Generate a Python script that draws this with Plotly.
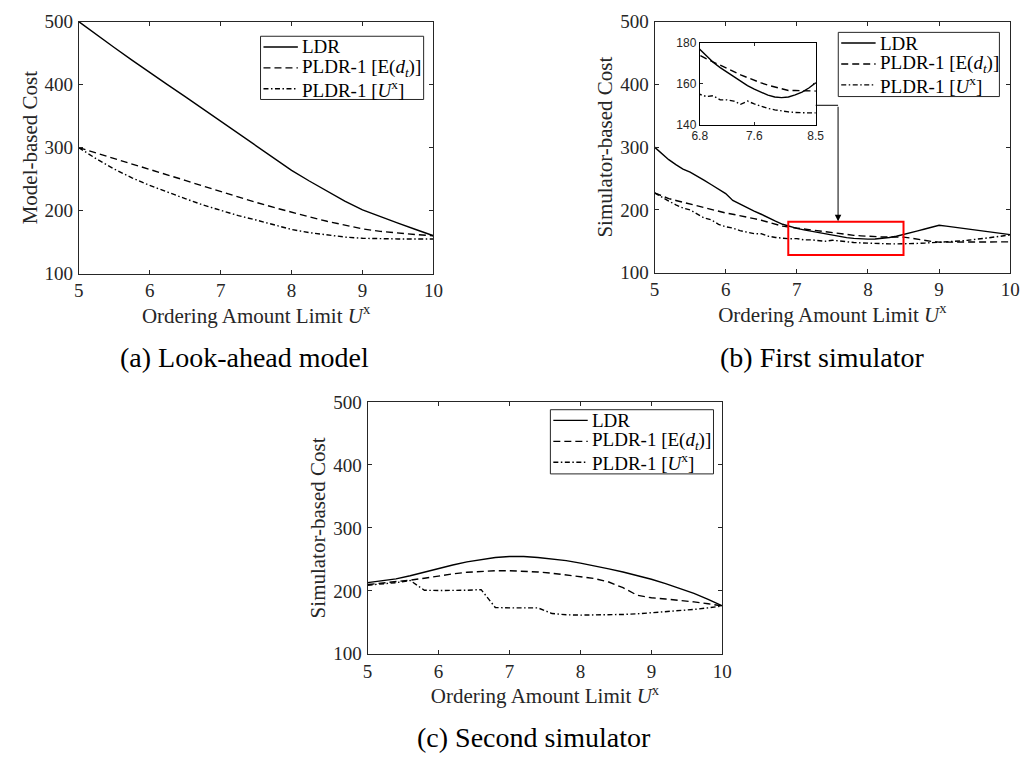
import plotly.graph_objects as go

SERIF = "Liberation Serif"
SANS = "Liberation Sans"
INK = "#262626"

# ---------------- data ----------------
# (a) look-ahead model
u_a = [5.0, 5.25, 5.5, 5.75, 6.0, 6.25, 6.5, 6.75, 7.0, 7.25, 7.5, 7.75,
       8.0, 8.25, 8.5, 8.75, 9.0, 9.25, 9.5, 9.75, 10.0]
ldr_a = [500, 479, 459, 439, 419, 400, 381, 361.5, 342, 322.5, 303, 283.5,
         264, 247, 231, 215, 201, 190, 180, 170, 160]
pldr_e_a = [300, 291.5, 283, 274.5, 266, 257, 248, 239, 230, 221.5, 213, 205,
            197, 190, 183, 177, 171, 167, 164, 162, 160]
pldr_u_a = [300, 282, 266, 252, 240, 229, 219, 209, 200, 192, 185, 177,
            170, 165, 161, 158, 156, 155, 155, 155, 155]

# (b) first simulator
u_b = [5.0, 5.1, 5.2, 5.3, 5.4, 5.5, 5.6, 5.7, 5.8, 5.9,
       6.0, 6.1, 6.2, 6.3, 6.4, 6.5, 6.6, 6.7, 6.8, 6.9,
       7.0, 7.1, 7.2, 7.3, 7.4, 7.5, 7.6, 7.7, 7.8, 7.9,
       8.0, 8.1, 8.2, 8.3, 8.4, 8.5, 8.6, 8.7, 8.8, 8.9,
       9.0, 9.1, 9.2, 9.3, 9.4, 9.5, 9.6, 9.7, 9.8, 9.9, 10.0]
ldr_b = [300, 290, 280, 272, 265, 260, 254, 247, 240, 233,
         226, 215, 209, 203, 198, 193, 187, 182, 177, 173.5,
         170.5, 168, 165.8, 163.5, 161.3, 159.2, 157.4, 155.8, 154.5, 153.6,
         153.3, 153.6, 154.6, 156, 158, 160.5, 163.5, 166.5, 169.5, 172.5,
         175.5, 174, 172.5, 171, 169.5, 168, 166.5, 165, 163.5, 162, 160.5]
pldr_e_b = [227, 222, 218, 215, 212, 210, 207, 204, 201, 198,
            195, 193, 191, 188.5, 186, 183.5, 180.5, 177, 174, 172.3,
            170.8, 169.2, 167.6, 166, 164.4, 163, 161.6, 160.5, 159.4, 158.6,
            157.8, 156.8, 156.8, 156.8, 156.8, 156.5, 155, 153, 151, 149.5,
            148.5, 148.5, 148.5, 148.5, 148.5, 148.5, 148.5, 148.7, 148.8, 149, 149]
pldr_u_b = [227, 220, 214, 208, 203, 200, 193, 187, 184, 177,
            173, 171, 167, 164, 162, 162, 158, 156, 155, 153.8,
            154.2, 152.2, 152.2, 151.6, 150, 151.6, 150.2, 149, 148, 147.3,
            146.7, 146.3, 146, 145.8, 145.8, 145.8, 146, 146.5, 147, 147.5,
            148, 148.5, 149.5, 150.5, 151.5, 152.5, 154, 155.5, 157, 158.5, 160]

# (c) second simulator
u_c = [5.0, 5.2, 5.4, 5.6, 5.8, 6.0, 6.2, 6.4, 6.6, 6.8, 7.0, 7.2, 7.4,
       7.6, 7.8, 8.0, 8.2, 8.4, 8.6, 8.8, 9.0, 9.2, 9.4, 9.6, 9.8, 10.0]
ldr_c = [213, 216, 219, 224, 230, 236, 241, 246, 250, 253, 254.5, 254.5, 253,
         251, 248, 244, 240, 235, 230, 224.5, 218.5, 211.5, 204, 196, 186.5, 176]
pldr_e_c = [210, 212, 214, 217, 220, 224, 227, 229.5, 231, 232, 232, 231.5, 230,
            228, 225.5, 223, 219.5, 214, 205, 193, 189, 187, 185, 182.5, 179.5, 176]
pldr_u_c = [209, 211, 213, 216.5, 201, 200.5, 200.5, 201, 202, 173.5, 173, 173, 173,
            164, 162, 161.5, 161.5, 162, 162.5, 163.5, 165, 166.5, 168.5, 170.5, 173, 176]

x_ticks = [5, 6, 7, 8, 9, 10]
y_ticks = [100, 200, 300, 400, 500]
inset_x_ticks = [6.8, 7.6, 8.5]
inset_y_ticks = [140, 160, 180]

names = ["LDR", "PLDR-1 [E(<i>d</i><sub><i>t</i></sub>)]", "PLDR-1 [<i>U</i><sup>x</sup>]"]
dashes = ["solid", "7px,4px", "5px,2.5px,1.5px,2.5px"]

W, H = 1033, 765


def dom_x(a, b):
    return [a / W, b / W]


def dom_y(top, bottom):
    return [1 - bottom / H, 1 - top / H]


fig = go.Figure()

panels = [
    ("x", "y", u_a, [ldr_a, pldr_e_a, pldr_u_a]),
    ("x2", "y2", u_b, [ldr_b, pldr_e_b, pldr_u_b]),
    ("x3", "y3", u_c, [ldr_c, pldr_e_c, pldr_u_c]),
]
for xa, ya, xs, series in panels:
    for name, ys, dash in zip(names, series, dashes):
        fig.add_trace(go.Scatter(
            x=xs, y=ys, mode="lines", name=name, xaxis=xa, yaxis=ya,
            showlegend=False, line=dict(color="black", width=1.4, dash=dash),
        ))

# zoomed view of the first simulator
for name, ys, dash in zip(names, [ldr_b, pldr_e_b, pldr_u_b], dashes):
    fig.add_trace(go.Scatter(
        x=u_b, y=ys, mode="lines", name=name, xaxis="x4", yaxis="y4",
        showlegend=False, line=dict(color="black", width=1.4, dash=dash),
    ))

axis_common = dict(
    showline=True, linecolor=INK, linewidth=1, mirror="ticks",
    ticks="inside", ticklen=4, tickwidth=1, tickcolor=INK,
    showgrid=False, zeroline=False,
    tickfont=dict(family=SERIF, size=19, color=INK),
)
x_title = "Ordering Amount Limit <i>U</i><sup>x</sup>"
title_font = dict(family=SERIF, size=21, color=INK)


def xaxis(domain, anchor):
    return dict(axis_common, domain=domain, anchor=anchor, range=[5, 10],
                tickvals=x_ticks, ticklabelstandoff=0,
                title=dict(text=x_title, font=title_font, standoff=3))


def yaxis(domain, anchor, title):
    return dict(axis_common, domain=domain, anchor=anchor, range=[100, 500],
                tickvals=y_ticks, ticklabelstandoff=1,
                title=dict(text=title, font=title_font, standoff=1))


fig.update_layout(
    width=W, height=H,
    margin=dict(l=0, r=0, t=0, b=0),
    paper_bgcolor="white", plot_bgcolor="white",
    showlegend=False,
    xaxis=xaxis(dom_x(72, 433), "y"),
    yaxis=yaxis(dom_y(12, 271), "x", "Model-based Cost"),
    xaxis2=xaxis(dom_x(658, 1020), "y2"),
    yaxis2=yaxis(dom_y(12, 270), "x2", "Simulator-based Cost"),
    xaxis3=xaxis(dom_x(366, 727), "y3"),
    yaxis3=yaxis(dom_y(403, 662), "x3", "Simulator-based Cost"),
    xaxis4=dict(axis_common, domain=dom_x(704, 822), anchor="y4", range=[6.8, 8.5],
                tickvals=inset_x_ticks, ticktext=["6.8", "7.6", "8.5"],
                tickfont=dict(family=SANS, size=12, color=INK), ticklen=3,
                linecolor="black"),
    yaxis4=dict(axis_common, domain=dom_y(34, 118), anchor="x4", range=[140, 180],
                tickvals=inset_y_ticks,
                tickfont=dict(family=SANS, size=12, color=INK), ticklen=3,
                linecolor="black"),
)

# legend boxes (left, top, right, bottom in pixels of the page)
legend_boxes = [(257, 27, 423, 92), (845, 23, 1009, 89), (552, 411, 718, 477)]
legend_font = dict(family=SERIF, size=19, color="black")
for left, top, right, bottom in legend_boxes:
    fig.add_shape(type="rect", xref="paper", yref="paper",
                  x0=left / W, x1=right / W, y0=1 - bottom / H, y1=1 - top / H,
                  fillcolor="white", line=dict(color=INK, width=1), layer="above")
    for i, (name, dash) in enumerate(zip(names, dashes)):
        row = top + 11 + 21.5 * i
        fig.add_shape(type="line", xref="paper", yref="paper",
                      x0=(left + 3) / W, x1=(left + 38) / W,
                      y0=1 - row / H, y1=1 - row / H,
                      line=dict(color="black", width=1.4, dash=dash), layer="above")
        fig.add_annotation(text=name, x=(left + 40) / W, y=1 - row / H,
                           xref="paper", yref="paper", showarrow=False,
                           xanchor="left", yanchor="middle", font=legend_font)

# zoom box and pointer from the inset
fig.add_shape(type="rect", xref="x2", yref="y2", x0=6.88, x1=8.5, y0=128, y1=181,
              line=dict(color="red", width=2))
fig.add_shape(type="line", xref="x2", yref="y2", x0=7.265, x1=7.58, y0=366.7, y1=366.7,
              line=dict(color="black", width=1))
fig.add_annotation(x=7.58, y=182, ax=7.58, ay=366.7, xref="x2", yref="y2",
                   axref="x2", ayref="y2", text="", showarrow=True,
                   arrowhead=2, arrowsize=1.3, arrowwidth=1, arrowcolor="black")

# sub-figure captions
caption_font = dict(family=SERIF, size=28, color="black")
for text, cx, cy in [("(a) Look-ahead model", 241, 357),
                     ("(b) First simulator", 828, 357),
                     ("(c) Second simulator", 535, 748)]:
    fig.add_annotation(text=text, x=cx / W, y=1 - cy / H, xref="paper", yref="paper",
                       showarrow=False, xanchor="center", yanchor="middle",
                       font=caption_font)

fig.write_html("out.html")
